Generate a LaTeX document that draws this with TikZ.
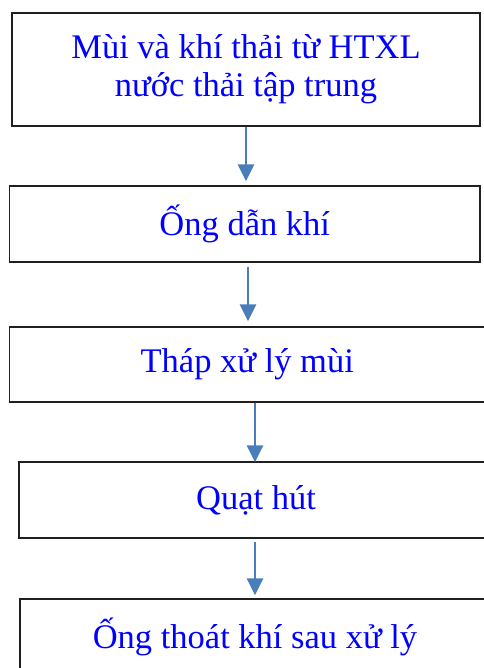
\documentclass[tikz,border=0pt]{standalone}
\usepackage{fontspec}
\setmainfont{Liberation Serif}
\usepackage{xcolor}
\usetikzlibrary{arrows.meta}
\definecolor{txtblue}{HTML}{0000FF}
\definecolor{arrowblue}{HTML}{4A7EBB}
\definecolor{edge}{HTML}{202020}
\tikzset{
  stage/.style={draw=edge, line width=1.3pt, fill=white, inner sep=0pt,
    text=txtblue, align=center, font=\fontsize{34.5}{38}\selectfont},
  flow/.style={draw=arrowblue, line width=2.6pt, -{Triangle[width=16pt,length=17pt]}},
}

\begin{document}
\begin{tikzpicture}[x=1pt, y=-1pt]
  \useasboundingbox (0,0) rectangle (483,668);
  \node[stage, minimum width=468pt, minimum height=113pt] (src) at (246,69.5)
    {Mùi và khí thải từ HTXL\\nước thải tập trung};
  \node[stage, minimum width=470.5pt, minimum height=76pt] (duct) at (244.75,224) {Ống dẫn khí};
  \node[stage, minimum width=475.5pt, minimum height=75pt] (tower) at (247.25,364.5) {Tháp xử lý mùi};
  \node[stage, minimum width=474pt, minimum height=76pt] (fan) at (256,500) {Quạt hút};
  \node[stage, minimum width=470pt, minimum height=76pt] (stack) at (255,637) {Ống thoát khí sau xử lý};
  % connectors
  \draw[flow, shorten >=4pt] (src.south) -- ([xshift=1.25pt]duct.north);
  \draw[flow, shorten <=4pt, shorten >=5pt] ([xshift=3.25pt]duct.south) -- ([xshift=0.75pt]tower.north);
  \draw[flow, shorten >=-1pt] ([xshift=7.75pt]tower.south) -- ([xshift=-1pt]fan.north);
  \draw[flow, shorten <=3pt, shorten >=3pt] ([xshift=-1pt]fan.south) -- (stack.north);
\end{tikzpicture}
\end{document}
